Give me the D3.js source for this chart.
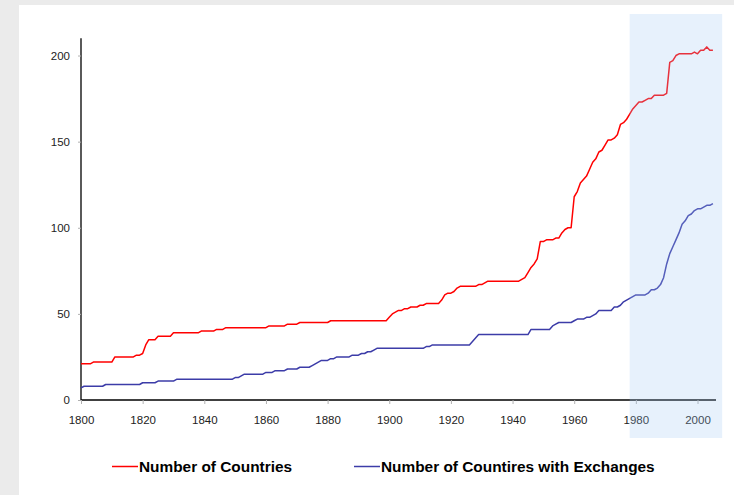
<!DOCTYPE html>
<html>
<head>
<meta charset="utf-8">
<script src="https://cdn.jsdelivr.net/npm/d3@7"></script>
<style>
  html, body { margin: 0; padding: 0; background: #ebebeb; }
  svg { display: block; }
  text { font-family: "Liberation Sans", Arial, sans-serif; }
</style>
</head>
<body>
<script>
// Yearly values, 1800 to 2005
const firstYear = 1800;
const lastYear = 2005;

const countries = [
  21,21,21,21,22,22,22,22,22,22,
  22,25,25,25,25,25,25,25,26,26,
  27,32,35,35,35,37,37,37,37,37,
  39,39,39,39,39,39,39,39,39,40,
  40,40,40,40,41,41,41,42,42,42,
  42,42,42,42,42,42,42,42,42,42,
  42,43,43,43,43,43,43,44,44,44,
  44,45,45,45,45,45,45,45,45,45,
  45,46,46,46,46,46,46,46,46,46,
  46,46,46,46,46,46,46,46,46,46,
  48,50,51,52,52,53,53,54,54,54,
  55,55,56,56,56,56,56,58,61,62,
  62,63,65,66,66,66,66,66,66,67,
  67,68,69,69,69,69,69,69,69,69,
  69,69,69,70,71,74,77,79,82,92,
  92,93,93,93,94,94,97,99,100,100,
  118,121,126,128,130,134,138,140,144,145,
  148,151,151,152,154,160,161,163,166,169,
  171,173,173,174,175,175,177,177,177,177,
  178,196,197,200,201,201,201,201,201,202,
  201,203,203,205,203,203
];

const exchanges = [
  7,8,8,8,8,8,8,8,9,9,
  9,9,9,9,9,9,9,9,9,9,
  10,10,10,10,10,11,11,11,11,11,
  11,12,12,12,12,12,12,12,12,12,
  12,12,12,12,12,12,12,12,12,12,
  13,13,14,15,15,15,15,15,15,15,
  16,16,16,17,17,17,17,18,18,18,
  18,19,19,19,19,20,21,22,23,23,
  23,24,24,25,25,25,25,25,26,26,
  26,27,27,28,28,29,30,30,30,30,
  30,30,30,30,30,30,30,30,30,30,
  30,30,31,31,32,32,32,32,32,32,
  32,32,32,32,32,32,32,34,36,38,
  38,38,38,38,38,38,38,38,38,38,
  38,38,38,38,38,38,41,41,41,41,
  41,41,41,43,44,45,45,45,45,45,
  46,47,47,47,48,48,49,50,52,52,
  52,52,52,54,54,55,57,58,59,60,
  61,61,61,61,62,64,64,65,67,71,
  79,85,89,93,97,102,104,107,108,110,
  111,111,112,113,113,114
];

const yTicks = [0, 50, 100, 150, 200];
const xTicks = [1800, 1820, 1840, 1860, 1880, 1900, 1920, 1940, 1960, 1980, 2000];
const highlightYears = [1978, 2008];

const seriesNames = ["Number of Countries", "Number of Countires with Exchanges"];
const seriesColors = ["#ff0000", "#3c3ca8"];

const W = 734, H = 495;
const years = d3.range(firstYear, lastYear + 1);

const svg = d3.select("body").append("svg")
  .attr("width", W).attr("height", H);

// grey frame with white panel
svg.append("rect").attr("width", W).attr("height", H).attr("fill", "#ebebeb");
svg.append("rect").attr("x", 19).attr("y", 5).attr("width", W - 19).attr("height", H - 5).attr("fill", "#ffffff");

const x = d3.scaleLinear().domain([1800, 2006]).range([81, 716]);
const y = d3.scaleLinear().domain([0, 210]).range([400, 38.3]);

// y axis
const yAxis = svg.append("g").attr("transform", "translate(81,0)")
  .call(d3.axisLeft(y).tickValues(yTicks).tickSize(3).tickPadding(8));
yAxis.select(".domain").attr("stroke", "#000").attr("stroke-width", 1.3)
  .attr("d", `M0,${y(210)}V${y(0)}`);
yAxis.selectAll(".tick line").attr("stroke", "#b0b0b0");
yAxis.selectAll(".tick text").attr("font-size", 11.5).attr("fill", "#222")
  .attr("font-family", "Liberation Sans, Arial, sans-serif");

// x axis
const xAxis = svg.append("g").attr("transform", "translate(0,400)")
  .call(d3.axisBottom(x).tickValues(xTicks).tickFormat(d3.format("d")).tickSize(4).tickPadding(11.5));
xAxis.select(".domain").attr("stroke", "#000").attr("stroke-width", 1.3)
  .attr("d", `M${x(1800)},0H${x(2006)}`);
xAxis.selectAll(".tick line").attr("stroke", "#b0b0b0");
xAxis.selectAll(".tick text").attr("font-size", 11.5).attr("fill", "#222")
  .attr("font-family", "Liberation Sans, Arial, sans-serif");

// series lines
const line = d3.line().x((d, i) => x(years[i])).y(d => y(d));
[countries, exchanges].forEach((vals, k) => {
  svg.append("path").datum(vals)
    .attr("fill", "none")
    .attr("stroke", seriesColors[k])
    .attr("stroke-width", 1.5)
    .attr("stroke-linejoin", "round")
    .attr("d", line);
});

// highlighted recent period
svg.append("rect")
  .attr("x", x(highlightYears[0]))
  .attr("y", 14)
  .attr("width", x(highlightYears[1]) - x(highlightYears[0]))
  .attr("height", 424)
  .attr("fill", "#9fc8f5")
  .attr("opacity", 0.25);

// legend
const legendX = [112, 354];
const legend = svg.append("g");
seriesNames.forEach((name, k) => {
  legend.append("line")
    .attr("x1", legendX[k]).attr("x2", legendX[k] + 26)
    .attr("y1", 466.5).attr("y2", 466.5)
    .attr("stroke", seriesColors[k]).attr("stroke-width", 1.5);
  legend.append("text")
    .attr("x", legendX[k] + 27).attr("y", 472)
    .attr("font-size", 15.4).attr("font-weight", "bold").attr("fill", "#000")
    .text(name);
});
</script>
</body>
</html>
